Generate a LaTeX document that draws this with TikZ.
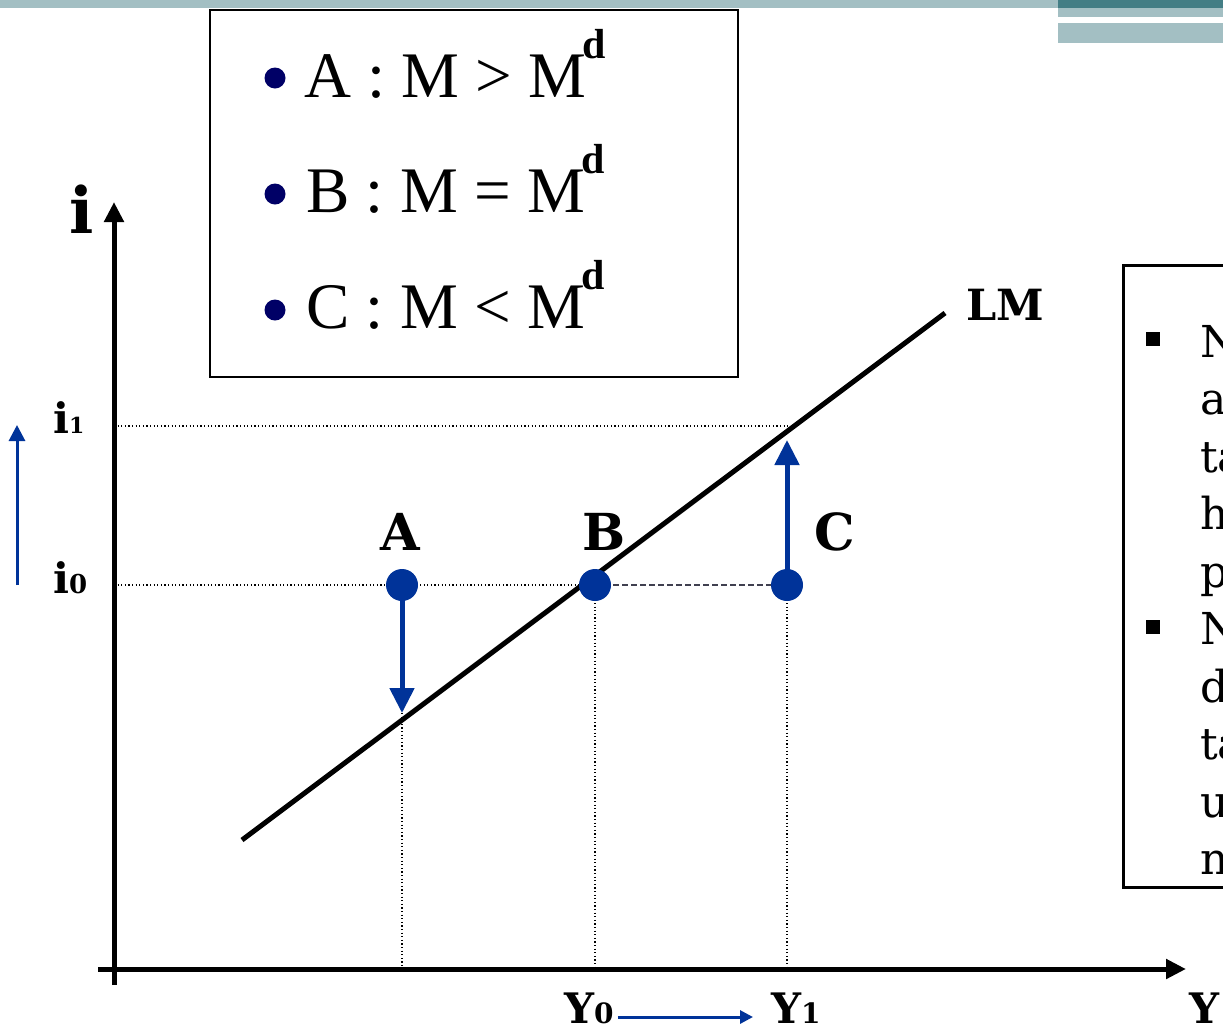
\documentclass[tikz,border=0pt]{standalone}
\usepackage{fontspec}
\setmainfont{Liberation Serif}
\newfontfamily\bk{DejaVu Serif}
\usetikzlibrary{arrows.meta,calc}
\definecolor{tealL}{RGB}{163,191,195}
\definecolor{tealD}{RGB}{67,126,133}
\definecolor{ptblue}{RGB}{0,51,153}
\definecolor{navyb}{RGB}{0,0,102}
\definecolor{dashgray}{RGB}{64,64,80}
\begin{document}
\begin{tikzpicture}[x=1pt,y=-1pt,
  axisline/.style={line width=5pt,-{Triangle[length=20pt,width=19pt]}},
  lmline/.style={line width=5pt},
  dots/.style={line width=1.2pt,dash pattern=on 1.2pt off 2.4pt},
  dashln/.style={line width=1.3pt,dashgray,dash pattern=on 6pt off 3pt},
  pt/.style={circle,fill=ptblue,minimum size=32pt,inner sep=0pt},
  bigarrow/.style={line width=5pt,ptblue,-{Triangle[length=25pt,width=24pt]}},
  thinarrow/.style={line width=3pt,ptblue,-{Triangle[length=16pt,width=16pt]}},
  lbl/.style={font=\bk\bfseries\fontsize{51}{51}\selectfont,inner sep=0pt},
  axlbl/.style={font=\bk\bfseries\fontsize{42}{42}\selectfont,inner sep=0pt},
  leg/.style={font=\fontsize{65}{65}\selectfont,inner sep=0pt,anchor=base west},
  legd/.style={font=\bfseries\fontsize{42}{42}\selectfont,inner sep=0pt,anchor=base west},
  legdot/.style={circle,fill=navyb,minimum size=21pt,inner sep=0pt},
  boxtext/.style={font=\bk\fontsize{44}{44}\selectfont,inner sep=0pt,anchor=base west}
]
\useasboundingbox (0,0) rectangle (1223,1029);
\clip (0,0) rectangle (1223,1029);
\fill[white] (0,0) rectangle (1223,1029);
% header bars
\fill[tealL] (0,0) rectangle (1223,8);
\fill[tealD] (1058,0) rectangle (1223,8);
\fill[tealL] (1058,8) rectangle (1223,17);
\fill[tealL] (1058,23) rectangle (1223,43);

% legend box
\draw[line width=2.2pt] (210,10) rectangle (738,377);
\node[legdot] (d1) at (275,78) {};
\node[legdot] (d2) at (275,194) {};
\node[legdot] (d3) at (275,310) {};
\node[leg] (la) at (304,97) {A : M > M};
\node[legd] (lad) at ($(la.base east)+(-4,-39)$) {d};
\node[leg] (lb) at (306,212) {B : M = M};
\node[legd] (lbd) at ($(lb.base east)+(-4,-39)$) {d};
\node[leg] (lc) at (306,328) {C : M < M};
\node[legd] (lcd) at ($(lc.base east)+(-4,-39)$) {d};

% right text box
\draw[line width=3pt] (1240,265) -- (1123,265) -- (1123,887) -- (1240,887);
\fill (1146,332) rectangle (1160,346);
\fill (1146,620) rectangle (1160,634);
\node[boxtext] (t1) at (1200,357) {N};
\node[boxtext] (t2) at (1200,414) {a};
\node[boxtext] (t3) at (1200,472) {ta};
\node[boxtext] (t4) at (1200,529) {h};
\node[boxtext] (t5) at (1200,587) {p};
\node[boxtext] (t6) at (1200,644) {N};
\node[boxtext] (t7) at (1200,702) {d};
\node[boxtext] (t8) at (1200,759) {ta};
\node[boxtext] (t9) at (1200,817) {u};
\node[boxtext] (t10) at (1200,874) {n};

% points
\coordinate (Apos) at (402,585);
\coordinate (Bpos) at (595,585);
\coordinate (Cpos) at (787,585);
\coordinate (Aend) at (402,713);
\coordinate (Cend) at (787,440);
\coordinate (i1end) at (790,426);
\coordinate (i1ax) at (114,426);
\coordinate (i0ax) at (114,585);
\coordinate (Abase) at (402,969);
\coordinate (Bbase) at (595,969);
\coordinate (Cbase) at (787,969);

% dotted guides
\draw[dots] (i1ax) -- (i1end);
\draw[dots] (i0ax) -- (Bpos);
\draw[dashln] (Bpos) -- (Cpos);
\draw[dots] (Aend) -- (Abase);
\draw[dots] (Bpos) -- (Bbase);
\draw[dots] (Cpos) -- (Cbase);

% axes
\coordinate (ybot) at (114,985);
\coordinate (ytop) at (114,202);
\coordinate (xl) at (98,969);
\coordinate (xr) at (1186,969);
\draw[axisline] (ybot) -- (ytop);
\draw[axisline] (xl) -- (xr);

% LM
\coordinate (L1) at (242,840);
\coordinate (L2) at (945,313);
\draw[lmline] (L1) -- (L2);
\node[inner sep=0pt,font=\bk\bfseries\fontsize{43}{43}\selectfont,anchor=base west] (LM) at (966,320) {LM};

% arrows from points
\draw[bigarrow] (Apos) -- (Aend);
\draw[bigarrow] (Cpos) -- (Cend);
\node[pt] (A) at (Apos) {};
\node[pt] (B) at (Bpos) {};
\node[pt] (C) at (Cpos) {};
\node[lbl,anchor=base] (Alab) at (400,550) {A};
\node[lbl,anchor=base] (Blab) at (604,550) {B};
\node[lbl,anchor=base] (Clab) at (835,550) {C};

% axis labels
\node[inner sep=0pt,anchor=base,font=\bk\bfseries\fontsize{64}{64}\selectfont] (ilab) at (82,233) {i};
\node[axlbl,anchor=base west] (i1) at (53,433) {i{\fontsize{22}{22}\selectfont 1}};
\node[axlbl,anchor=base west] (i0) at (53,593) {i{\fontsize{26}{26}\selectfont 0}};
\node[axlbl,anchor=base west] (Y0) at (564,1023) {Y{\fontsize{28}{28}\selectfont 0}};
\node[axlbl,anchor=base west] (Y1) at (771,1023) {Y{\fontsize{28}{28}\selectfont 1}};
\node[axlbl,anchor=base west] (Ylab) at (1189,1023) {Y};

% blue shift arrows
\coordinate (li0) at (17,585);
\coordinate (li1) at (17,425);
\draw[thinarrow] (li0) -- (li1);
\draw[line width=3pt,ptblue,-{Triangle[length=13pt,width=13pt]}] ([xshift=4pt,yshift=6pt]Y0.base east) -- ([xshift=-18pt,yshift=6pt]Y1.base west);
\end{tikzpicture}
\end{document}
